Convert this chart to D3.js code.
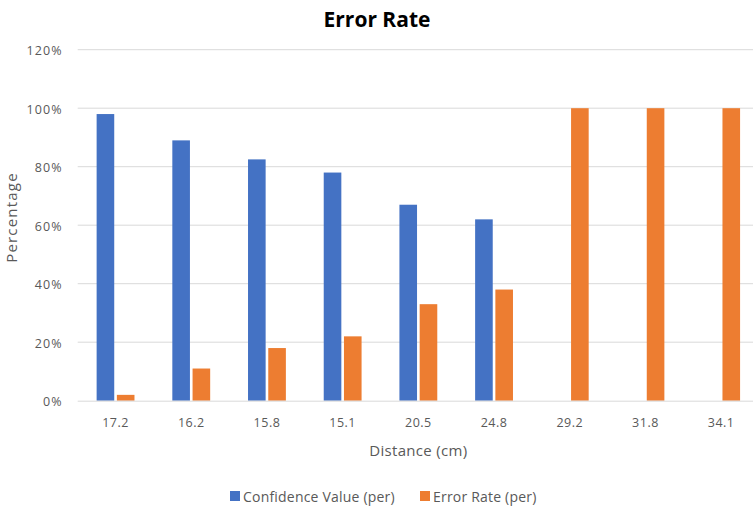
<!DOCTYPE html>
<html><head><meta charset="utf-8">
<script src="https://cdn.jsdelivr.net/npm/d3@7"></script>
<style>body{margin:0;background:#fff}svg{display:block}text{font-family:"Open Sans",sans-serif}</style>
</head><body><svg id="c" width="753" height="506"></svg>
<script>
const categories = ["17.2","16.2","15.8","15.1","20.5","24.8","29.2","31.8","34.1"];
const seriesNames = ["Confidence Value (per)","Error Rate (per)"];
const confidence = [98, 89, 82.5, 78, 67, 62, 0, 0, 0];
const errorRate = [2, 11, 18, 22, 33, 38, 100, 100, 100];
const yTicks = [0, 20, 40, 60, 80, 100, 120];
const colors = ["#4472C4", "#ED7D31"];

const svg = d3.select("#c");
const pLeft = 77.7, pRight = 759, pTop = 49.7, pBottom = 400.7;
const x0 = d3.scaleBand().domain(categories).range([pLeft, pRight]).paddingInner(0.5).paddingOuter(0.25);
const x1 = d3.scaleBand().domain(seriesNames).range([0, x0.bandwidth()]).paddingInner(0.13);
const y = d3.scaleLinear().domain([0, 120]).range([pBottom, pTop]);

// gridlines
svg.append("g").selectAll("line").data(yTicks.filter(d => d > 0)).join("line")
  .attr("x1", pLeft).attr("x2", 753).attr("y1", d => y(d)).attr("y2", d => y(d))
  .attr("stroke", "#d9d9d9").attr("stroke-width", 1);

// y axis
const yAxis = svg.append("g").attr("transform", `translate(${pLeft},0)`)
  .call(d3.axisLeft(y).tickValues(yTicks).tickFormat(d => d + "%").tickSize(0).tickPadding(15));
yAxis.select(".domain").remove();
yAxis.selectAll("text").attr("fill", "#595959").style("font-size", "12.5px")
  .style("letter-spacing", "1.1px").attr("dy", "0.4em");

// bars
const data = categories.map((c, i) => ({c, vals: [confidence[i], errorRate[i]]}));
const g = svg.append("g");
g.selectAll("g").data(data).join("g").attr("transform", d => `translate(${x0(d.c)},0)`)
  .selectAll("rect").data(d => d.vals.map((v, j) => ({name: seriesNames[j], v, j})).filter(e => e.v > 0)).join("rect")
  .attr("x", e => x1(e.name)).attr("width", x1.bandwidth())
  .attr("y", e => y(e.v)).attr("height", e => y(0) - y(e.v))
  .attr("fill", e => colors[e.j]);

// x axis
const xAxis = svg.append("g").attr("transform", `translate(0,${pBottom})`)
  .call(d3.axisBottom(x0).tickSize(0).tickPadding(17));
xAxis.select(".domain").attr("stroke", "#d9d9d9").attr("d", `M${pLeft},0.5H753`);
xAxis.selectAll("text").attr("fill", "#595959").style("font-size", "12.5px").style("letter-spacing", "0.5px");

// title
svg.append("text").attr("x", 377).attr("y", 27).attr("text-anchor", "middle")
  .style("font-size", "21px").style("font-weight", "bold").attr("fill", "#000").text("Error Rate");

// axis titles
svg.append("text").attr("transform", "translate(17,217.5) rotate(-90)").attr("text-anchor", "middle")
  .style("font-size", "15px").style("letter-spacing", "1.2px").attr("fill", "#595959").text("Percentage");
svg.append("text").attr("x", (pLeft + pRight) / 2).attr("y", 456).attr("text-anchor", "middle")
  .style("font-size", "15px").style("letter-spacing", "0.3px").attr("fill", "#595959").text("Distance (cm)");

// legend
const legX = [230, 420];
const leg = svg.append("g").selectAll("g").data(seriesNames).join("g")
  .attr("transform", (d, i) => `translate(${legX[i]},491)`);
leg.append("rect").attr("width", 10).attr("height", 10).attr("fill", (d, i) => colors[i]);
leg.append("text").attr("x", 13).attr("y", 10.5).style("font-size", "14px").style("letter-spacing", "0.2px")
  .attr("fill", "#595959").text(d => d);
</script></body></html>
